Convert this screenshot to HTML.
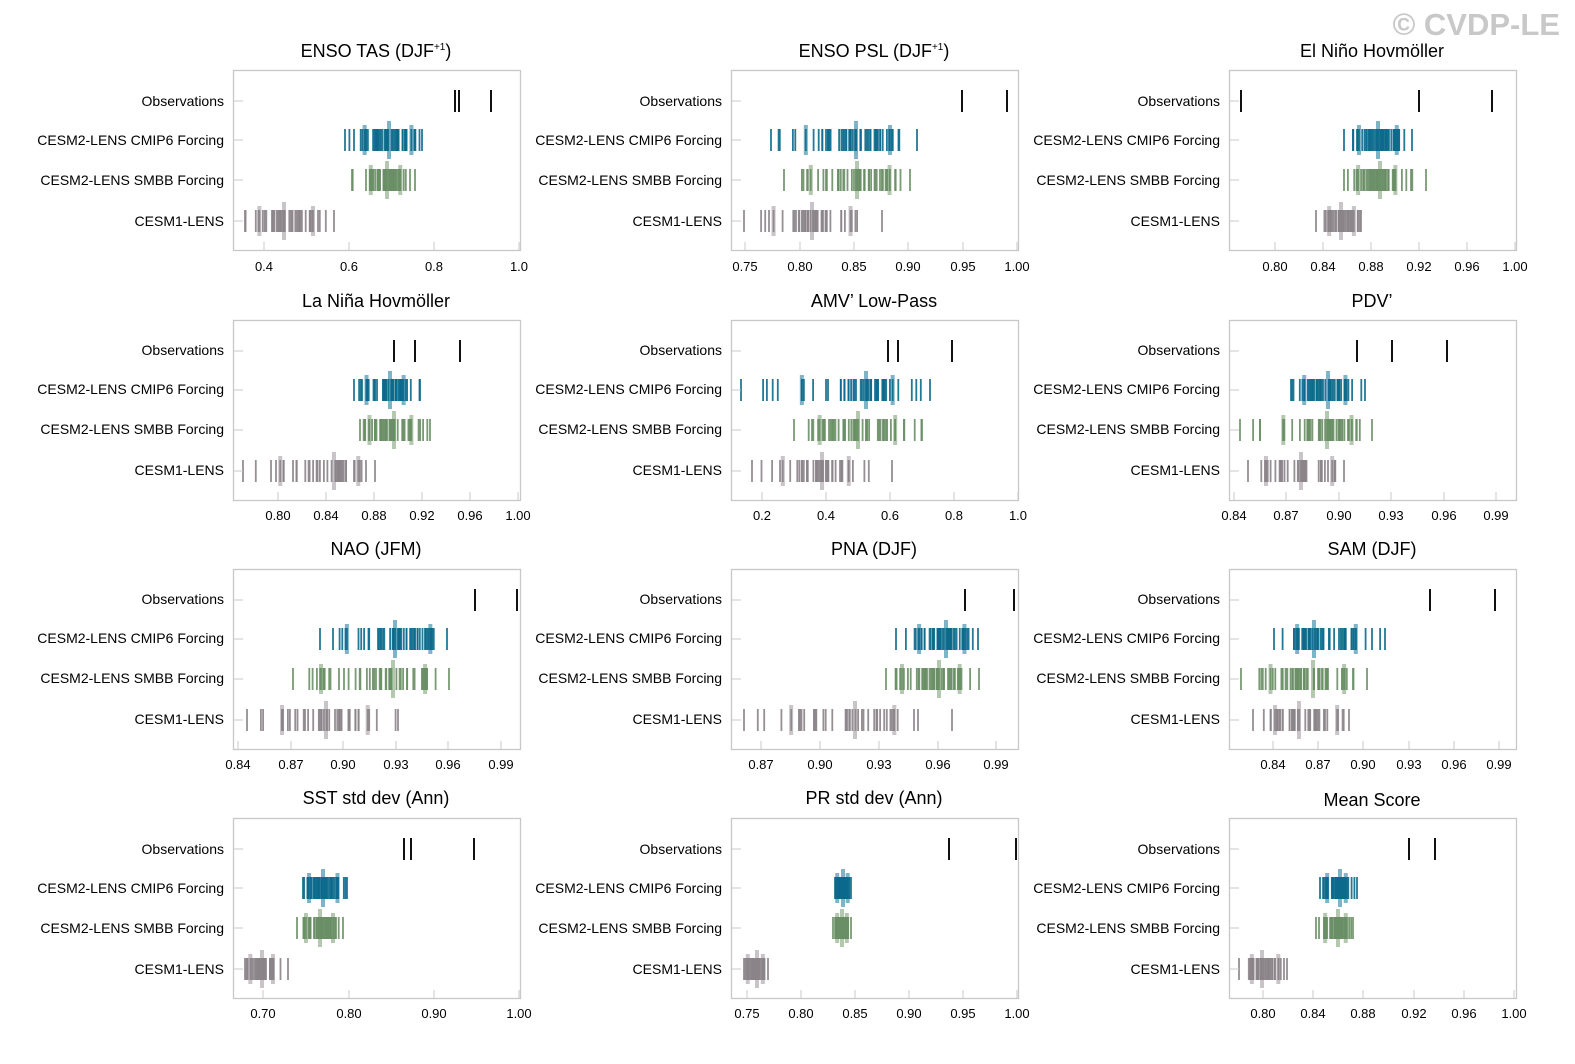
<!DOCTYPE html>
<html><head><meta charset="utf-8">
<style>
html,body{margin:0;padding:0;background:#fff;width:1575px;height:1064px;overflow:hidden;}
svg{display:block;}
text{font-family:"Liberation Sans",Arial,sans-serif;fill:#000;}
.t{font-size:18px;text-anchor:middle;}
.l{font-size:14px;text-anchor:end;}
.k{font-size:13px;text-anchor:middle;}
</style></head><body>
<svg id="s" width="1575" height="1064" viewBox="0 0 1575 1064" xmlns="http://www.w3.org/2000/svg">
<text x="1560" y="35" style="font-size:31px;font-weight:bold;fill:#c8c8c8;text-anchor:end">© CVDP-LE</text>
<g id="bars"></g>
<text class="t" x="376" y="57">ENSO TAS (DJF<tspan dy="-7" style="font-size:10px">+1</tspan><tspan dy="7">)</tspan></text>
<text class="t" x="874" y="57">ENSO PSL (DJF<tspan dy="-7" style="font-size:10px">+1</tspan><tspan dy="7">)</tspan></text>
<text class="t" x="1372" y="57">El Niño Hovmöller</text>
<text class="t" x="376" y="307">La Niña Hovmöller</text>
<text class="t" x="874" y="307">AMV’ Low-Pass</text>
<text class="t" x="1372" y="307">PDV’</text>
<text class="t" x="376" y="555">NAO (JFM)</text>
<text class="t" x="874" y="555">PNA (DJF)</text>
<text class="t" x="1372" y="555">SAM (DJF)</text>
<text class="t" x="376" y="804">SST std dev (Ann)</text>
<text class="t" x="874" y="804">PR std dev (Ann)</text>
<text class="t" x="1372" y="806">Mean Score</text>
<g>
<text class="l" x="224" y="106">Observations</text><text class="l" x="224" y="145">CESM2-LENS CMIP6 Forcing</text><text class="l" x="224" y="185">CESM2-LENS SMBB Forcing</text><text class="l" x="224" y="226">CESM1-LENS</text>
<text class="l" x="722" y="106">Observations</text><text class="l" x="722" y="145">CESM2-LENS CMIP6 Forcing</text><text class="l" x="722" y="185">CESM2-LENS SMBB Forcing</text><text class="l" x="722" y="226">CESM1-LENS</text>
<text class="l" x="1220" y="106">Observations</text><text class="l" x="1220" y="145">CESM2-LENS CMIP6 Forcing</text><text class="l" x="1220" y="185">CESM2-LENS SMBB Forcing</text><text class="l" x="1220" y="226">CESM1-LENS</text>

<text class="l" x="224" y="355">Observations</text><text class="l" x="224" y="394">CESM2-LENS CMIP6 Forcing</text><text class="l" x="224" y="434">CESM2-LENS SMBB Forcing</text><text class="l" x="224" y="475">CESM1-LENS</text>
<text class="l" x="722" y="355">Observations</text><text class="l" x="722" y="394">CESM2-LENS CMIP6 Forcing</text><text class="l" x="722" y="434">CESM2-LENS SMBB Forcing</text><text class="l" x="722" y="475">CESM1-LENS</text>
<text class="l" x="1220" y="355">Observations</text><text class="l" x="1220" y="394">CESM2-LENS CMIP6 Forcing</text><text class="l" x="1220" y="434">CESM2-LENS SMBB Forcing</text><text class="l" x="1220" y="475">CESM1-LENS</text>

<text class="l" x="224" y="604">Observations</text><text class="l" x="224" y="643">CESM2-LENS CMIP6 Forcing</text><text class="l" x="224" y="683">CESM2-LENS SMBB Forcing</text><text class="l" x="224" y="724">CESM1-LENS</text>
<text class="l" x="722" y="604">Observations</text><text class="l" x="722" y="643">CESM2-LENS CMIP6 Forcing</text><text class="l" x="722" y="683">CESM2-LENS SMBB Forcing</text><text class="l" x="722" y="724">CESM1-LENS</text>
<text class="l" x="1220" y="604">Observations</text><text class="l" x="1220" y="643">CESM2-LENS CMIP6 Forcing</text><text class="l" x="1220" y="683">CESM2-LENS SMBB Forcing</text><text class="l" x="1220" y="724">CESM1-LENS</text>

<text class="l" x="224" y="854">Observations</text><text class="l" x="224" y="893">CESM2-LENS CMIP6 Forcing</text><text class="l" x="224" y="933">CESM2-LENS SMBB Forcing</text><text class="l" x="224" y="974">CESM1-LENS</text>
<text class="l" x="722" y="854">Observations</text><text class="l" x="722" y="893">CESM2-LENS CMIP6 Forcing</text><text class="l" x="722" y="933">CESM2-LENS SMBB Forcing</text><text class="l" x="722" y="974">CESM1-LENS</text>
<text class="l" x="1220" y="854">Observations</text><text class="l" x="1220" y="893">CESM2-LENS CMIP6 Forcing</text><text class="l" x="1220" y="933">CESM2-LENS SMBB Forcing</text><text class="l" x="1220" y="974">CESM1-LENS</text>
</g>
<g>
<text class="k" x="264" y="271">0.4</text><text class="k" x="349" y="271">0.6</text><text class="k" x="434" y="271">0.8</text><text class="k" x="519" y="271">1.0</text>
<text class="k" x="745" y="271">0.75</text><text class="k" x="800" y="271">0.80</text><text class="k" x="854" y="271">0.85</text><text class="k" x="908" y="271">0.90</text><text class="k" x="963" y="271">0.95</text><text class="k" x="1017" y="271">1.00</text>
<text class="k" x="1275" y="271">0.80</text><text class="k" x="1323" y="271">0.84</text><text class="k" x="1371" y="271">0.88</text><text class="k" x="1419" y="271">0.92</text><text class="k" x="1467" y="271">0.96</text><text class="k" x="1515" y="271">1.00</text>

<text class="k" x="278" y="520">0.80</text><text class="k" x="326" y="520">0.84</text><text class="k" x="374" y="520">0.88</text><text class="k" x="422" y="520">0.92</text><text class="k" x="470" y="520">0.96</text><text class="k" x="518" y="520">1.00</text>
<text class="k" x="762" y="520">0.2</text><text class="k" x="826" y="520">0.4</text><text class="k" x="890" y="520">0.6</text><text class="k" x="954" y="520">0.8</text><text class="k" x="1018" y="520">1.0</text>
<text class="k" x="1234" y="520">0.84</text><text class="k" x="1286" y="520">0.87</text><text class="k" x="1339" y="520">0.90</text><text class="k" x="1391" y="520">0.93</text><text class="k" x="1444" y="520">0.96</text><text class="k" x="1496" y="520">0.99</text>

<text class="k" x="238" y="769">0.84</text><text class="k" x="291" y="769">0.87</text><text class="k" x="343" y="769">0.90</text><text class="k" x="396" y="769">0.93</text><text class="k" x="448" y="769">0.96</text><text class="k" x="501" y="769">0.99</text>
<text class="k" x="761" y="769">0.87</text><text class="k" x="820" y="769">0.90</text><text class="k" x="879" y="769">0.93</text><text class="k" x="938" y="769">0.96</text><text class="k" x="996" y="769">0.99</text>
<text class="k" x="1273" y="769">0.84</text><text class="k" x="1318" y="769">0.87</text><text class="k" x="1363" y="769">0.90</text><text class="k" x="1409" y="769">0.93</text><text class="k" x="1454" y="769">0.96</text><text class="k" x="1499" y="769">0.99</text>

<text class="k" x="263" y="1018">0.70</text><text class="k" x="349" y="1018">0.80</text><text class="k" x="434" y="1018">0.90</text><text class="k" x="519" y="1018">1.00</text>
<text class="k" x="747" y="1018">0.75</text><text class="k" x="801" y="1018">0.80</text><text class="k" x="855" y="1018">0.85</text><text class="k" x="909" y="1018">0.90</text><text class="k" x="963" y="1018">0.95</text><text class="k" x="1017" y="1018">1.00</text>
<text class="k" x="1263" y="1018">0.80</text><text class="k" x="1313" y="1018">0.84</text><text class="k" x="1363" y="1018">0.88</text><text class="k" x="1414" y="1018">0.92</text><text class="k" x="1464" y="1018">0.96</text><text class="k" x="1514" y="1018">1.00</text>
</g>
</svg>
<script>
(function(){
var NS="http://www.w3.org/2000/svg",g=document.getElementById("bars");
function el(n,a){var e=document.createElementNS(NS,n);for(var k in a)e.setAttribute(k,a[k]);g.appendChild(e);return e;}
var seed=11;function r(){seed=(seed*16807)%2147483647;return (seed-1)/2147483646;}
var cols=[233,731,1229],rows=[70,320,569,818],W=287,H=180;
var P=[
[[264,349,434,519],[455,459,491],[345,422,389],[352,415,387],[245,334,284]],
[[745,800,854,908,963,1017],[962,1007],[771,917,856],[784,910,857],[744,882,812]],
[[1275,1323,1371,1419,1467,1515],[1241,1419,1492],[1344,1412,1378],[1344,1426,1380],[1316,1361,1341]],
[[278,326,374,422,470,518],[394,415,460],[354,420,390],[360,430,394],[243,375,334]],
[[762,826,890,954,1018],[888,898,952],[741,930,866],[794,922,858],[752,892,822]],
[[1234,1286,1339,1391,1444,1496],[1357,1392,1447],[1291,1365,1328],[1240,1372,1327],[1248,1344,1301]],
[[238,291,343,396,448,501],[475,517],[320,447,395],[293,449,393],[247,398,326]],
[[761,820,879,938,996],[965,1014],[896,978,946],[886,979,939],[744,952,855]],
[[1273,1318,1363,1409,1454,1499],[1430,1495],[1274,1385,1314],[1241,1367,1313],[1253,1349,1299]],
[[263,349,434,519],[404,411,474],[303,347,323],[297,343,320],[245,288,262]],
[[747,801,855,909,963,1017],[949,1016],[835,851,843],[833,851,842],[744,768,757]],
[[1263,1313,1363,1414,1464,1514],[1409,1435],[1320,1357,1340],[1316,1353,1338],[1239,1287,1262]]
];
var C=[["#0c6a8c","#7fb3c8"],["#6a8f66","#b4c8b0"],["#8b8488","#c9c4c7"]];
var N=[50,50,40];
P.forEach(function(p,i){
 var x0=cols[i%3],y0=rows[Math.floor(i/3)];
 var ys=[y0+31,y0+70,y0+110,y0+151];
 for(var s=0;s<3;s++){
  var d=p[s+2],mn=d[0],mx=d[1],md=d[2],yc=ys[s+1],c=C[s];
  var xs=[mn,mx];
  for(var j=0;j<N[s];j++){
   var u=(r()+r())/2; var x;
   if(u<0.5)x=md-(md-mn)*((0.5-u)*2);else x=md+(mx-md)*((u-0.5)*2);
   xs.push(x);
  }
  xs.sort(function(a,b){return a-b});
  var p10=xs[Math.floor(xs.length*0.1)],p90=xs[Math.floor(xs.length*0.9)];
  [p10,p90].forEach(function(x){el("rect",{x:x-2,y:yc-15,width:4,height:30,fill:c[1]});});
  el("rect",{x:md-2,y:yc-19,width:4,height:38,fill:c[1]});
  xs.forEach(function(x){el("rect",{x:(x-0.9).toFixed(1),y:yc-11,width:1.8,height:22,fill:c[0],opacity:0.9});});
 }
 p[1].forEach(function(x){el("rect",{x:x-1,y:ys[0]-11,width:2,height:22,fill:"#111"});});
 el("rect",{x:x0+0.5,y:y0+0.5,width:W,height:H,fill:"none",stroke:"#c8c8c8","stroke-width":1.3});
 ys.forEach(function(y){el("line",{x1:x0,x2:x0+10,y1:y,y2:y,stroke:"#c8c8c8"});});
 p[0].forEach(function(x){el("line",{x1:x,x2:x,y1:y0+H,y2:y0+H-8,stroke:"#c8c8c8"});});
});
})();
</script>
</body></html>
